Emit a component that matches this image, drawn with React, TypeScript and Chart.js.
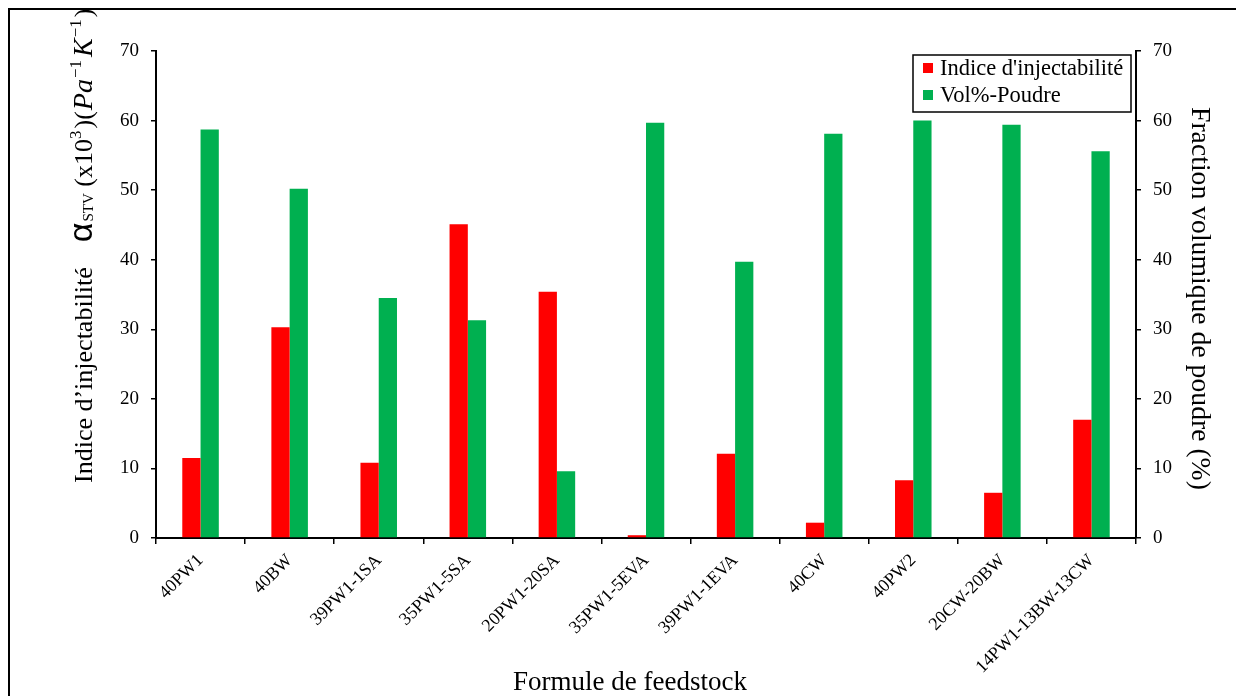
import React, { useEffect, useRef } from "react";
import Chart from "chart.js/auto";

const categories = [
  "40PW1",
  "40BW",
  "39PW1-1SA",
  "35PW1-5SA",
  "20PW1-20SA",
  "35PW1-5EVA",
  "39PW1-1EVA",
  "40CW",
  "40PW2",
  "20CW-20BW",
  "14PW1-13BW-13CW",
];
const injectability = [11.5, 30.3, 10.8, 45.1, 35.4, 0.4, 12.1, 2.2, 8.3, 6.5, 17.0];
const powderVolume = [58.7, 50.2, 34.5, 31.3, 9.6, 59.7, 39.7, 58.1, 60.0, 59.4, 55.6];
const seriesNames = ["Indice d'injectabilité", "Vol%-Poudre"];
const seriesColors = ["#FF0000", "#00B050"];
const yMin = 0;
const yMax = 70;
const yStep = 10;
const xTitle = "Formule de feedstock";
const rightTitle = "Fraction volumique de poudre (%)";
// rich left title parts: [text, kind]
const leftTitleParts: [string, string][] = [
  ["Indice d\u2019injectabilit\u00e9", "main"],
  ["\u03b1", "alpha"],
  ["STV", "sub"],
  [" (x10", "main"],
  ["3", "sup"],
  [")(", "main"],
  ["Pa", "ital"],
  ["\u22121", "sup"],
  ["K", "ital"],
  ["\u22121", "sup"],
  [")", "main"],
];

const SERIF = "'Liberation Serif', 'Times New Roman', serif";

const overlayPlugin = {
  id: "overlay",
  afterDraw(chart: any) {
    const ctx = chart.ctx as CanvasRenderingContext2D;
    ctx.save();
    ctx.fillStyle = "#000";

    // X title
    ctx.font = `27px ${SERIF}`;
    ctx.textAlign = "center";
    ctx.textBaseline = "alphabetic";
    ctx.fillText(xTitle, 630, 690);

    // Right title
    ctx.save();
    ctx.translate(1192, 107);
    ctx.rotate(Math.PI / 2);
    ctx.textAlign = "left";
    ctx.font = `27.7px ${SERIF}`;
    ctx.fillText(rightTitle, 0, 0);
    ctx.restore();

    // Left title (rich text)
    ctx.save();
    ctx.translate(92, 483);
    ctx.rotate(-Math.PI / 2);
    ctx.textAlign = "left";
    let x = 0;
    for (const [text, kind] of leftTitleParts) {
      let font = `26px ${SERIF}`;
      let dy = 0;
      let before = 0;
      let after = 0;
      if (kind === "alpha") {
        font = `34px 'Liberation Sans', Arial, sans-serif`;
        before = 25;
        after = 1;
      } else if (kind === "sub") {
        font = `15px ${SERIF}`;
        dy = 1;
      } else if (kind === "sup") {
        font = `17px ${SERIF}`;
        dy = -11;
        after = 2;
      } else if (kind === "ital") {
        font = `italic 28px ${SERIF}`;
        before = 1;
        after = 1;
      }
      x += before;
      ctx.font = font;
      ctx.fillText(text, x, dy);
      x += ctx.measureText(text).width + after;
    }
    ctx.restore();

    // Legend
    const bx = 913, by = 55, bw = 218, bh = 57;
    ctx.fillStyle = "#fff";
    ctx.fillRect(bx, by, bw, bh);
    ctx.strokeStyle = "#000";
    ctx.lineWidth = 1.5;
    ctx.strokeRect(bx, by, bw, bh);
    ctx.font = `22.5px ${SERIF}`;
    ctx.textAlign = "left";
    ctx.textBaseline = "alphabetic";
    chart.data.datasets.forEach((ds: any, i: number) => {
      const rowY = by + 8 + i * 27;
      ctx.fillStyle = ds.backgroundColor;
      ctx.fillRect(bx + 10, rowY, 10, 10);
      ctx.fillStyle = "#000";
      ctx.fillText(ds.label, bx + 27, rowY + 12);
    });
    ctx.restore();
  },
};

export default function App() {
  const canvasRef = useRef<HTMLCanvasElement | null>(null);

  useEffect(() => {
    if (!canvasRef.current) return;
    const tickFont = { family: SERIF, size: 19 };
    const yAxisCommon = (position: string, width: number) => ({
      type: "linear",
      position,
      min: yMin,
      max: yMax,
      ticks: { stepSize: yStep, color: "#000", font: tickFont, padding: 12 },
      grid: { drawOnChartArea: false, drawTicks: true, tickLength: 5, color: "#000", lineWidth: 1.5 },
      border: { display: true, color: "#000", width: 2 },
      afterFit: (s: any) => {
        s.width = width;
      },
    });
    const chart = new Chart(canvasRef.current, {
      type: "bar",
      data: {
        labels: categories,
        datasets: [
          {
            label: seriesNames[0],
            data: injectability,
            backgroundColor: seriesColors[0],
            borderWidth: 0,
            yAxisID: "y",
            categoryPercentage: 0.41,
            barPercentage: 1.0,
          },
          {
            label: seriesNames[1],
            data: powderVolume,
            backgroundColor: seriesColors[1],
            borderWidth: 0,
            yAxisID: "y1",
            categoryPercentage: 0.41,
            barPercentage: 1.0,
          },
        ],
      },
      options: {
        responsive: false,
        animation: false,
        devicePixelRatio: 1,
        layout: { padding: { top: 51, left: 0, right: 0, bottom: 0 } },
        plugins: { legend: { display: false }, tooltip: { enabled: false } },
        scales: {
          x: {
            type: "category",
            offset: true,
            grid: { offset: true, drawOnChartArea: false, drawTicks: true, tickLength: 6, color: "#000", lineWidth: 1.5 },
            border: { display: true, color: "#000", width: 2 },
            ticks: { color: "#000", font: { family: SERIF, size: 18 }, maxRotation: 45, minRotation: 45, padding: 6, autoSkip: false },
            afterFit: (s: any) => {
              s.height = 158;
            },
          },
          y: yAxisCommon("left", 156) as any,
          y1: yAxisCommon("right", 100) as any,
        },
      } as any,
      plugins: [overlayPlugin],
    });
    return () => chart.destroy();
  }, []);

  return (
    <div style={{ position: "fixed", left: 0, top: 0, width: 1236, height: 696, overflow: "hidden", background: "#fff" }}>
      <div
        style={{
          position: "absolute",
          left: 8,
          top: 8,
          width: 1300,
          height: 800,
          border: "2px solid #000",
          boxSizing: "border-box",
        }}
      />
      <canvas ref={canvasRef} width={1236} height={696} style={{ position: "absolute", left: 0, top: 0 }} />
    </div>
  );
}
